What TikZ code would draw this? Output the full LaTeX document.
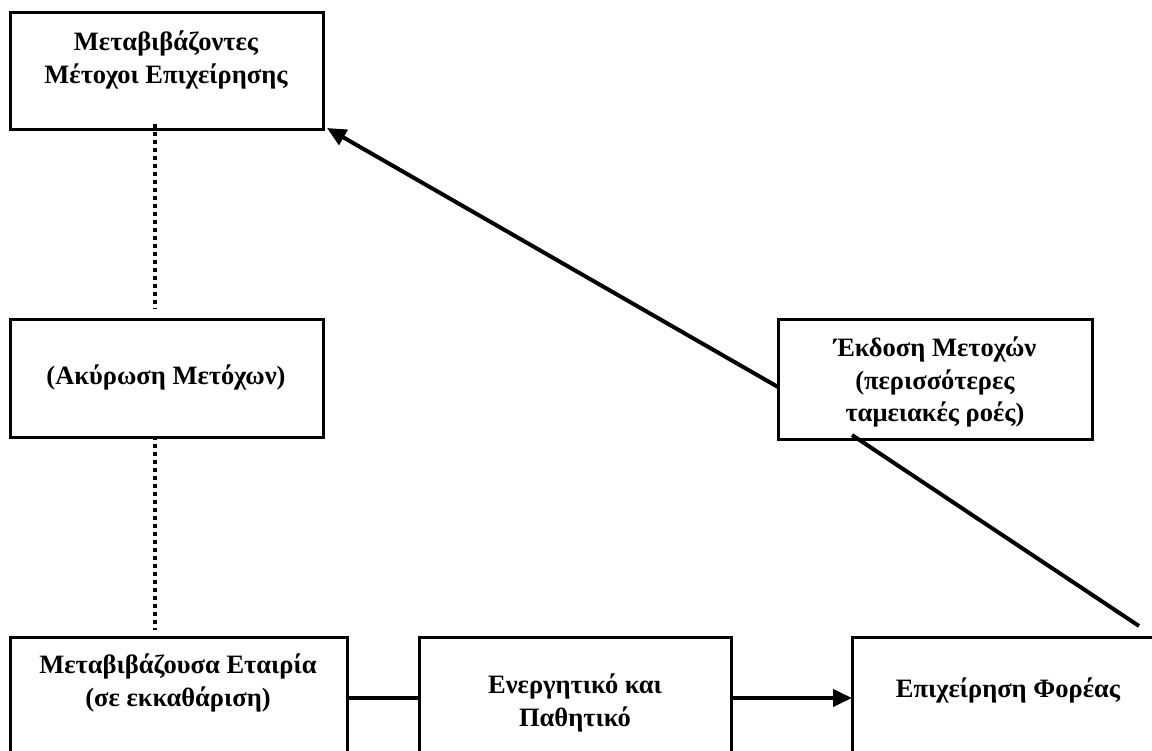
\documentclass[tikz,border=0pt]{standalone}
\usepackage{fontspec}
\setmainfont{Liberation Serif}
\usetikzlibrary{arrows.meta,positioning}
\tikzset{
  bx/.style={draw, line width=3pt, inner sep=0pt, outer sep=0pt},
  bsmall/.style={bx, minimum width=313pt, minimum height=117pt},
  bbig/.style={bx, minimum width=312pt, minimum height=143pt},
  tx/.style={align=center, inner sep=0pt,
             font=\bfseries\fontsize{26.5}{32.5}\selectfont},
  ln/.style={draw, line width=4pt},
  ar/.style={ln, -{Triangle[length=19pt,width=17pt]}},
  dt/.style={draw, line width=4.5pt, dash pattern=on 4pt off 4pt},
}

\begin{document}
\begin{tikzpicture}[x=1pt,y=-1pt]
  \useasboundingbox (0,0) rectangle (1152,751);
  \clip (0,0) rectangle (1152,751);

  % boxes
  \node[bsmall] (sell) at (166.5,71.5) {};
  \node[bsmall] (canc) at (166.5,378.5) {};
  \node[bbig, minimum width=337pt] (tran) at (178.5,708.5) {};
  \node[bbig] (asset) at (575,708.5) {};
  \node[bbig] (carr) at (1008,708.5) {};
  \node[bsmall, minimum width=314pt, minimum height=119pt] (iss) at (935,379.5) {};

  % texts
  \node[tx] (sell-t) at (166,60) {Μεταβιβάζοντες\\Μέτοχοι Επιχείρησης};
  \node[tx] (canc-t) at (166,377) {(Ακύρωση Μετόχων)};
  \node[tx] (tran-t) at (178,683) {Μεταβιβάζουσα Εταιρία\\(σε εκκαθάριση)};
  \node[tx] (asset-t) at (575,703) {Ενεργητικό και\\Παθητικό};
  \node[tx] (carr-t) at (1008,690) {Επιχείρηση Φορέας};
  \node[tx] (iss-t) at (935,382) {Έκδοση Μετοχών\\(περισσότερες\\ταμειακές ροές)};

  % connectors
  \draw[dt] ([xshift=-11.5pt,yshift=6pt]sell.south) -- ([xshift=-11.5pt,yshift=11pt]canc.north);
  \draw[dt] ([xshift=-11.5pt,yshift=1pt]canc.south) -- ([xshift=-23.5pt,yshift=7pt]tran.north);
  \draw[ln] ([yshift=10.5pt]tran.east) -- ([yshift=10.5pt]asset.west);
  \draw[ar] ([yshift=10.5pt]asset.east) -- ([yshift=10.5pt]carr.west);
  \draw[ar] ([yshift=-7.5pt]iss.west) -- ([xshift=4pt,yshift=2pt]sell.south east);
  \draw[ln] ([xshift=74pt,yshift=4pt]iss.south west) -- ([xshift=131pt,yshift=11pt]carr.north);
\end{tikzpicture}
\end{document}
